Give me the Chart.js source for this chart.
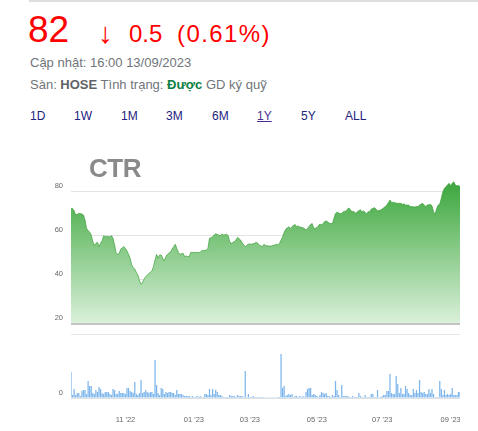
<!DOCTYPE html>
<html>
<head>
<meta charset="utf-8">
<script src="https://cdn.jsdelivr.net/npm/chart.js@4"></script>
<style>
  body { margin: 0; width: 478px; height: 431px; position: relative; overflow: hidden; background: #fff;
         font-family: Arial, "Liberation Sans", sans-serif; }
  .abs { position: absolute; white-space: nowrap; line-height: 1; }
  .topline { position: absolute; left: 29px; top: 0; width: 449px; height: 2px; background: #dedede; }
  .red { color: #ff0000; }
  .gray { color: #70757a; font-size: 13px; }
  .tab { font-size: 12px; color: #222280; }
  #ctr { position: absolute; left: 89px; top: 155px; font-size: 26px; font-weight: bold; color: #8a8a8a;
         letter-spacing: -0.5px; line-height: 1; z-index: 2; }
  canvas { position: absolute; }
</style>
</head>
<body>
<div class="topline"></div>
<div class="abs red" style="left:28px; top:11px; font-size:37px;">82</div>
<div class="abs red" style="left:98px; top:19px; font-size:29px;">↓</div>
<div class="abs red" style="left:129px; top:22px; font-size:24px;">0.5</div>
<div class="abs red" style="left:177px; top:22px; font-size:24px; letter-spacing:1.4px;">(0.61%)</div>
<div class="abs gray" style="left:30px; top:56px;">Cập nhật: 16:00 13/09/2023</div>
<div class="abs gray" style="left:30px; top:78px;">Sàn: <b style="color:#5f6368">HOSE</b> Tình trạng: <b style="color:#0b8043">Được</b> GD ký quỹ</div>
<div class="abs tab" style="left:30px; top:110px;">1D</div>
<div class="abs tab" style="left:74px; top:110px;">1W</div>
<div class="abs tab" style="left:121px; top:110px;">1M</div>
<div class="abs tab" style="left:166px; top:110px;">3M</div>
<div class="abs tab" style="left:212px; top:110px;">6M</div>
<div class="abs tab" style="left:257px; top:110px; color:#4b2c8f; text-decoration:underline;">1Y</div>
<div class="abs tab" style="left:301px; top:110px;">5Y</div>
<div class="abs tab" style="left:345px; top:110px;">ALL</div>
<div id="ctr">CTR</div>
<canvas id="price-chart" width="430" height="180" style="left:30px; top:147px;"></canvas>
<canvas id="volume-chart" width="430" height="101" style="left:30px; top:330px;"></canvas>

<script>
// Phiên giao dịch: 13/09/2022 → 13/09/2023 (bỏ cuối tuần và ngày nghỉ lễ)
const tradingStart = '2022-09-13';
const tradingEnd   = '2023-09-13';
const holidays = ['2023-01-02', '2023-01-20', '2023-01-23', '2023-01-24', '2023-01-25', '2023-01-26',
                  '2023-05-01', '2023-05-02', '2023-05-03', '2023-09-01', '2023-09-04'];
const tickMonths = [1, 3, 5, 7, 9, 11];

// Giá đóng cửa (nghìn đồng)
const closePrices = [
  72.1, 72.0, 71.0, 69.1, 69.4, 69.8, 69.8, 69.5, 69.1, 66.8,
  63.0, 62.0, 61.2, 60.0, 57.0, 55.2, 56.2, 56.7, 54.7, 56.2,
  57.4, 59.7, 59.2, 59.4, 59.2, 59.2, 59.7, 58.5, 55.5, 51.7,
  51.2, 51.7, 53.6, 54.2, 54.7, 53.9, 52.7, 51.2, 49.4, 46.4,
  45.2, 44.5, 43.0, 41.8, 39.1, 37.6, 38.5, 40.0, 41.0, 41.8,
  42.5, 43.0, 43.6, 45.6, 48.6, 51.2, 49.4, 50.9, 50.9, 49.4,
  48.2, 50.2, 51.2, 51.8, 52.4, 53.6, 54.7, 55.8, 53.9, 52.1,
  51.2, 51.5, 51.7, 50.2, 50.5, 50.2, 50.2, 52.1, 52.1, 52.0,
  52.1, 52.0, 52.1, 52.1, 52.9, 52.9, 52.9, 53.2, 53.9, 58.5,
  58.8, 59.1, 60.0, 60.6, 60.3, 59.9, 59.7, 60.5, 60.0, 60.1,
  60.3, 59.7, 57.0, 56.2, 56.6, 57.0, 57.7, 58.9, 58.3, 57.7,
  56.5, 55.5, 54.7, 55.3, 55.8, 55.9, 55.8, 56.0, 56.2, 56.7,
  56.2, 55.5, 55.1, 54.7, 55.8, 55.2, 55.1, 55.0, 55.0, 55.0,
  55.3, 55.5, 55.8, 55.5, 56.2, 57.7, 59.2, 61.2, 62.6, 63.2,
  63.8, 63.0, 63.8, 64.3, 64.8, 63.8, 64.1, 63.6, 63.5, 63.3,
  63.0, 62.3, 63.0, 63.9, 64.8, 65.2, 63.0, 63.1, 63.3, 64.2,
  65.0, 64.5, 65.2, 66.1, 66.4, 66.0, 65.3, 65.2, 65.2, 67.6,
  69.8, 70.3, 70.0, 69.7, 69.8, 70.6, 70.8, 70.9, 72.1, 72.1,
  70.9, 70.7, 70.6, 69.8, 70.6, 71.0, 71.5, 70.6, 70.9, 70.3,
  69.7, 70.6, 70.6, 71.8, 72.1, 72.4, 71.8, 70.9, 71.1, 71.4,
  71.8, 72.4, 73.0, 73.6, 74.8, 75.9, 74.8, 74.8, 74.8, 74.4,
  74.4, 74.4, 74.4, 73.9, 74.2, 73.6, 73.6, 73.6, 72.9, 72.9,
  72.8, 72.7, 72.9, 72.9, 73.6, 74.0, 74.4, 73.6, 72.9, 73.6,
  73.8, 73.9, 73.3, 70.6, 69.4, 72.1, 73.6, 74.1, 76.7, 79.7,
  81.2, 82.0, 82.7, 83.5, 82.4, 83.5, 84.2, 82.7, 82.4, 82.5,
  82.0
];

// Khối lượng (nghìn cổ phiếu)
const volumes = [
  1300, 150, 450, 150, 250, 250, 100, 350, 400, 400,
  200, 850, 600, 600, 250, 200, 400, 300, 550, 450,
  250, 200, 300, 300, 300, 200, 150, 450, 400, 200,
  200, 350, 250, 250, 250, 200, 500, 500, 350, 300,
  250, 800, 200, 150, 250, 900, 250, 300, 400, 300,
  250, 300, 300, 200, 1900, 650, 250, 150, 500, 450,
  200, 300, 250, 300, 300, 250, 250, 150, 400, 200,
  200, 200, 150, 100, 100, 100, 100, 50, 100, 50,
  50, 100, 50, 100, 50, 50, 200, 200, 150, 450,
  150, 450, 200, 400, 300, 150, 150, 100, 50, 50,
  50, 50, 150, 100, 100, 100, 50, 150, 100, 100,
  100, 50, 1350, 50, 200, 50, 50, 100, 50, 50,
  50, 50, 50, 50, 50, 25, 50, 15, 15, 15,
  15, 15, 15, 50, 50, 2200, 500, 600, 100, 150,
  200, 150, 200, 50, 100, 100, 50, 100, 50, 100,
  50, 300, 450, 500, 500, 150, 200, 150, 100, 50,
  150, 300, 250, 200, 250, 100, 100, 50, 150, 100,
  850, 400, 150, 50, 650, 100, 100, 100, 100, 50,
  50, 100, 50, 50, 50, 250, 100, 50, 50, 150,
  50, 50, 50, 200, 200, 50, 50, 400, 50, 50,
  100, 150, 150, 350, 350, 1200, 250, 200, 200, 1100,
  700, 250, 500, 200, 200, 600, 450, 250, 150, 150,
  450, 250, 400, 250, 900, 300, 250, 300, 200, 200,
  450, 250, 450, 200, 50, 50, 50, 850, 450, 150,
  400, 150, 200, 150, 200, 500, 150, 150, 150, 300,
  300
];

const priceTicks  = [20, 40, 60, 80];
const volumeTicks = [0, 3200];

// ── Danh sách ngày giao dịch ─────────────────────────────────────
function buildTradingDays() {
  const days = [];
  const d = new Date(tradingStart + 'T00:00:00Z');
  const end = new Date(tradingEnd + 'T00:00:00Z');
  while (d <= end) {
    const iso = d.toISOString().slice(0, 10);
    const wd = d.getUTCDay();
    if (wd !== 0 && wd !== 6 && !holidays.includes(iso)) days.push(iso);
    d.setUTCDate(d.getUTCDate() + 1);
  }
  return days;
}
const tradingDays = buildTradingDays();

// Nhãn trục X: phiên đầu tiên của các tháng lẻ
function monthLabel(idx) {
  const cur = tradingDays[idx];
  const prev = tradingDays[idx - 1];
  if (!cur || !prev || cur.slice(0, 7) === prev.slice(0, 7)) return '';
  const m = parseInt(cur.slice(5, 7));
  if (!tickMonths.includes(m)) return '';
  return cur.slice(5, 7) + " '" + cur.slice(2, 4);
}

const tickFont  = { family: 'Arial, "Liberation Sans", sans-serif', size: 7.5 };
const tickColor = '#666666';

// ── Biểu đồ giá ──────────────────────────────────────────────────
new Chart(document.getElementById('price-chart'), {
  type: 'line',
  data: {
    labels: tradingDays,
    datasets: [{
      data: closePrices,
      borderColor: 'rgba(60,160,60,0.7)',
      borderWidth: 1,
      pointRadius: 0,
      tension: 0,
      fill: 'start',
      backgroundColor: (ctx) => {
        const area = ctx.chart.chartArea;
        if (!area) return 'rgba(80,170,80,0.6)';
        // gradient từ đỉnh dữ liệu (~y=180 trên trang) xuống đáy vùng vẽ
        const g = ctx.chart.ctx.createLinearGradient(0, 33, 0, area.bottom);
        g.addColorStop(0, 'rgb(58,166,58)');
        g.addColorStop(1, 'rgb(218,240,218)');
        return g;
      },
    }],
  },
  options: {
    responsive: false,
    animation: false,
    layout: { padding: { top: 0, bottom: 4, left: 0, right: 0 } },
    plugins: { legend: { display: false }, tooltip: { enabled: false } },
    scales: {
      x: { display: false, offset: false },
      y: {
        min: 20,
        max: 100,
        z: 1,
        afterBuildTicks: (s) => { s.ticks = priceTicks.map(v => ({ value: v })); },
        afterFit: (s) => { s.width = 41; s.paddingTop = 0; s.paddingBottom = 0; },
        border: { display: false },
        grid: {
          drawTicks: false,
          color: (c) => c.tick && c.tick.value === 20 ? '#c4c4c4' : 'rgba(0,0,0,0.11)',
          lineWidth: (c) => c.tick && c.tick.value === 20 ? 3 : 1,
        },
        ticks: { font: tickFont, color: tickColor, padding: 8, labelOffset: -5 },
      },
    },
  },
});

// ── Biểu đồ khối lượng ───────────────────────────────────────────
new Chart(document.getElementById('volume-chart'), {
  type: 'bar',
  data: {
    labels: tradingDays,
    datasets: [{
      data: volumes,
      backgroundColor: '#7cb5ec',
      categoryPercentage: 1,
      barPercentage: 0.8,
    }],
  },
  options: {
    responsive: false,
    animation: false,
    layout: { padding: { top: 4, bottom: 0, left: 0, right: 0 } },
    plugins: { legend: { display: false }, tooltip: { enabled: false } },
    scales: {
      x: {
        offset: false,
        afterFit: (s) => { s.height = 33; s.paddingLeft = 0; s.paddingRight = 0; },
        grid: { display: false },
        border: { display: true, color: '#e0e0e0' },
        ticks: {
          autoSkip: false,
          maxRotation: 0,
          minRotation: 0,
          padding: 9,
          font: tickFont,
          color: tickColor,
          callback: (val, idx) => monthLabel(idx),
        },
      },
      y: {
        min: 0,
        max: 3200,
        afterBuildTicks: (s) => { s.ticks = volumeTicks.map(v => ({ value: v })); },
        afterFit: (s) => { s.width = 41; s.paddingTop = 0; s.paddingBottom = 0; },
        border: { display: false },
        grid: { drawTicks: false, color: '#e6e6e6' },
        ticks: {
          font: tickFont, color: tickColor, padding: 8, labelOffset: -5,
          callback: (v) => v === 0 ? '0' : '',
        },
      },
    },
  },
});
</script>
</body>
</html>
